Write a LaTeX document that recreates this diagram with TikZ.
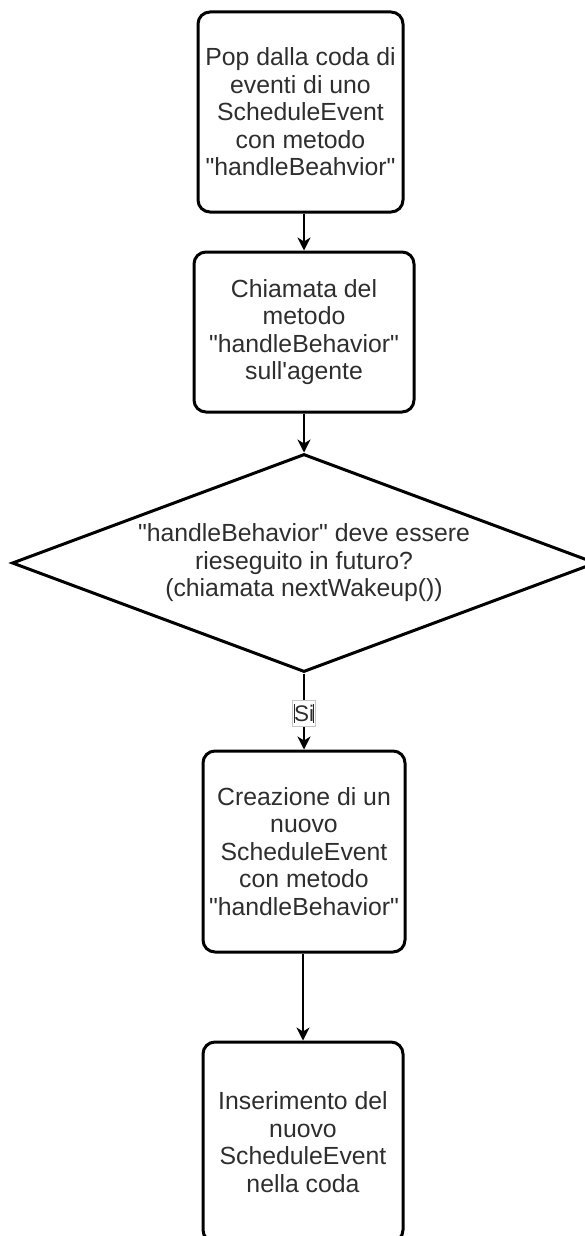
\documentclass[tikz,border=0pt]{standalone}
\usepackage{fontspec}
\newfontfamily\lsans{Liberation Sans}
\usetikzlibrary{shapes.geometric,arrows.meta}
\begin{document}
\begin{tikzpicture}[x=1pt,y=-1pt,
  txt/.style={font=\lsans\fontsize{24.8}{27.5}\selectfont, text=black!82, align=center},
  box/.style={txt, draw, line width=3pt, rounded corners=12pt, inner sep=0pt},
  decision/.style={draw, diamond, line width=3pt, inner sep=0pt},
  conn/.style={line width=2pt, -{Stealth[length=13pt,width=13pt,inset=4pt]}},
  lbl/.style={font=\lsans\fontsize{22.5}{24}\selectfont, text=black!82, fill=white, draw=gray!45, line width=0.6pt, inner sep=0pt, minimum width=23pt, minimum height=26pt},
]
\useasboundingbox (0,0) rectangle (585,1236);
\node[box, minimum width=205pt, minimum height=200pt] (b1) at (300.5,112)
  {Pop dalla coda di\\eventi di uno\\ScheduleEvent\\con metodo\\"handleBeahvior"};
\node[box, minimum width=220pt, minimum height=160pt] (b2) at (304,332)
  {Chiamata del\\metodo\\"handleBehavior"\\sull'agente};
\node[decision, minimum width=584pt, minimum height=218pt] (d) at (304,563) {};
\node[txt] (dt) at (304,563)
  {"handleBehavior" deve essere\\rieseguito in futuro?\\(chiamata nextWakeup())};
\node[box, minimum width=202pt, minimum height=201pt] (b3) at (304,851.5)
  {Creazione di un\\nuovo\\ScheduleEvent\\con metodo\\"handleBehavior"};
\node[box, minimum width=200pt, minimum height=200pt] (b4) at (303,1142)
  {Inserimento del\\nuovo\\ScheduleEvent\\nella coda};
\draw[conn] (b2.north |- b1.south) -- (b2.north);
\draw[conn] (b2.south) -- (d.north);
\draw[conn] (d.south) -- (b3.north) node[lbl, pos=0.53] (si) {Si};
\draw[line width=1.5pt, black!85] ([shift={(2.2,4)}]si.north west) -- ([shift={(2.2,-4)}]si.south west);
\draw[line width=1.5pt, black!85] ([shift={(-2.2,4)}]si.north east) -- ([shift={(-2.2,-4)}]si.south east);
\draw[conn] (b3.south -| b4.north) -- (b4.north);
\end{tikzpicture}
\end{document}
